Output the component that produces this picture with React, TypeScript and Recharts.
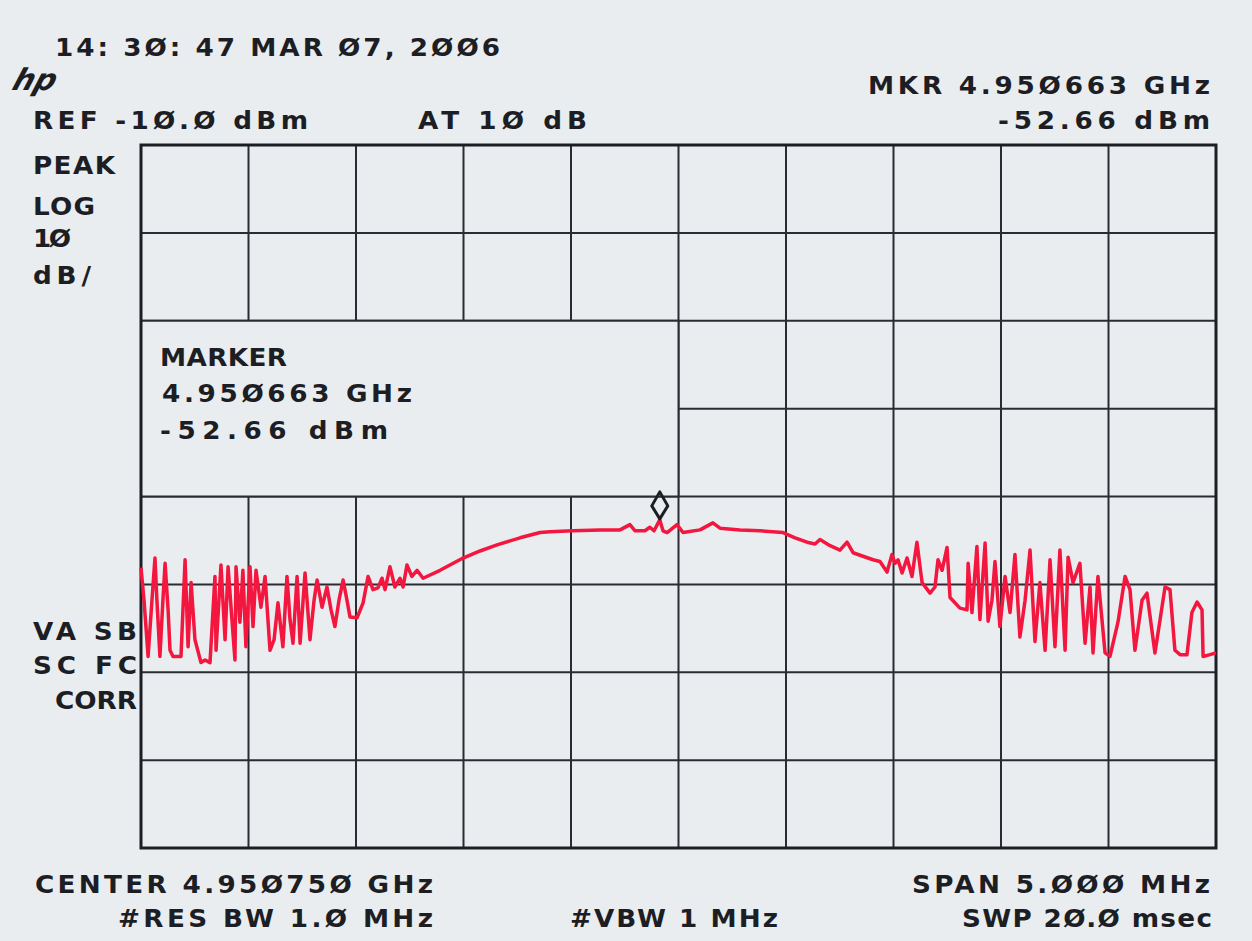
import { LineChart, Line, XAxis, YAxis, CartesianGrid, ReferenceArea, ReferenceDot } from 'recharts';

// frequency offset from center (4.950750 GHz), MHz
const freqOffsetMHz = [
  -2.5, -2.486, -2.467, -2.449, -2.435, -2.426, -2.412, -2.398, -2.388, -2.374,
  -2.365, -2.351, -2.314, -2.295, -2.281, -2.267, -2.249, -2.221, -2.202, -2.179,
  -2.156, -2.151, -2.128, -2.109, -2.095, -2.077, -2.063, -2.058, -2.04, -2.026,
  -2.012, -1.993, -1.979, -1.965, -1.942, -1.923, -1.9, -1.881, -1.863, -1.84,
  -1.821, -1.807, -1.793, -1.774, -1.76, -1.737, -1.714, -1.695, -1.681, -1.658,
  -1.635, -1.616, -1.598, -1.579, -1.56, -1.542, -1.528, -1.495, -1.467, -1.444,
  -1.421, -1.398, -1.379, -1.365, -1.342, -1.319, -1.295, -1.281, -1.263, -1.24,
  -1.216, -1.188, -1.109, -1.002, -0.923, -0.844, -0.737, -0.644, -0.598, -0.491,
  -0.365, -0.272, -0.226, -0.202, -0.156, -0.133, -0.114, -0.087, -0.072, -0.053,
  -0.007, 0.021, 0.1, 0.16, 0.193, 0.286, 0.379, 0.486, 0.542, 0.598,
  0.635, 0.658, 0.705, 0.751, 0.784, 0.812, 0.858, 0.905, 0.937, 0.97,
  0.993, 1.007, 1.021, 1.04, 1.063, 1.086, 1.109, 1.133, 1.17, 1.193,
  1.207, 1.226, 1.249, 1.263, 1.309, 1.342, 1.347, 1.365, 1.388, 1.402,
  1.426, 1.44, 1.458, 1.472, 1.495, 1.519, 1.542, 1.565, 1.588, 1.612,
  1.635, 1.658, 1.681, 1.705, 1.728, 1.751, 1.774, 1.798, 1.812, 1.835,
  1.867, 1.891, 1.914, 1.928, 1.951, 1.984, 2.007, 2.044, 2.077, 2.1,
  2.123, 2.156, 2.179, 2.216, 2.24, 2.263, 2.286, 2.309, 2.333, 2.365,
  2.388, 2.412, 2.435, 2.44, 2.472, 2.5,
];

// trace level, dBm
const levelDbm = [
  -58.1, -61.8, -68.2, -61.8, -57.0, -61.8, -68.2, -61.8, -57.6, -62.9,
  -67.5, -68.2, -68.2, -57.2, -67.1, -59.8, -66.3, -68.9, -68.6, -68.9,
  -59.1, -67.5, -57.8, -66.3, -58.0, -64.0, -68.6, -58.0, -64.3, -58.4,
  -67.1, -58.0, -64.8, -58.4, -62.6, -59.1, -67.5, -66.3, -62.1, -67.1,
  -59.1, -64.0, -66.7, -59.1, -66.7, -58.7, -66.3, -61.8, -59.5, -62.6,
  -60.3, -62.9, -64.8, -61.8, -59.5, -61.8, -63.7, -63.8, -62.1, -59.1,
  -60.6, -60.4, -59.3, -60.6, -58.0, -60.3, -59.3, -60.3, -57.8, -59.1,
  -58.4, -59.3, -58.4, -57.0, -56.2, -55.5, -54.7, -54.1, -54.0, -53.9,
  -53.8, -53.8, -53.2, -53.9, -53.9, -53.5, -53.9, -52.66, -53.9, -54.1,
  -53.2, -54.1, -53.8, -53.0, -53.6, -53.8, -53.9, -54.1, -54.7, -55.2,
  -55.4, -54.9, -55.6, -56.1, -55.2, -56.4, -56.8, -57.2, -57.4, -58.6,
  -56.6, -57.6, -57.2, -58.7, -57.0, -59.1, -55.2, -59.8, -61.0, -60.3,
  -57.2, -58.4, -55.8, -61.5, -62.7, -62.9, -57.6, -63.2, -55.7, -64.0,
  -55.3, -64.2, -61.8, -57.4, -64.8, -59.1, -63.2, -56.6, -66.0, -61.8,
  -56.1, -66.5, -59.8, -67.5, -57.2, -67.1, -56.1, -67.5, -56.9, -59.8,
  -57.6, -66.7, -60.3, -67.8, -59.1, -67.8, -68.2, -64.3, -59.1, -60.6,
  -67.5, -61.8, -61.0, -67.8, -64.0, -60.3, -60.6, -67.5, -68.0, -68.0,
  -63.2, -62.0, -62.9, -68.2, -68.0, -67.8,
];

const freqTicks = [-2.5, -2, -1.5, -1, -0.5, 0, 0.5, 1, 1.5, 2, 2.5];
const levelTicks = [-90, -80, -70, -60, -50, -40, -30, -20, -10];

const markerMHz = -0.087;
const markerDbm = -52.66;

const trace = freqOffsetMHz.map((f, i) => ({ f, dbm: levelDbm[i] }));

const PAPER = '#e9edf0';
const INK = '#1d1e24';
const GRID = '#2b2c33';
const TRACE = '#f3163e';

const MarkerDiamond = (props: any) => {
  const { cx, cy } = props;
  const top = cy - 28;
  return (
    <path
      d={`M${cx},${top} L${cx + 8},${top + 14} L${cx},${top + 27} L${cx - 8},${top + 14} Z`}
      fill="none"
      stroke={INK}
      strokeWidth={3}
      strokeLinejoin="round"
    />
  );
};

// plotter-style label: stretched horizontally to fill the measured width
const SX = 1.05;
const T = ({ x, y, w, children }: { x: number, y: number, w: number, children: string }) => (
  <text
    transform={`translate(${x},${y}) scale(${SX},1)`}
    x={0}
    y={0}
    textLength={w / SX}
    lengthAdjust="spacing"
    fontFamily="DejaVu Sans"
    fontWeight={700}
    fontSize={25}
    fill={INK}
  >
    {children}
  </text>
);

export default function App() {
  return (
    <div style={{ position: 'absolute', left: 0, top: 0, width: 1252, height: 941, background: PAPER }}>
      <LineChart
        width={1252}
        height={941}
        data={trace}
        margin={{ top: 145, right: 36, bottom: 93, left: 141 }}
      >
        <XAxis dataKey="f" type="number" domain={[-2.5, 2.5]} ticks={freqTicks} hide />
        <YAxis type="number" domain={[-90, -10]} ticks={levelTicks} hide />
        <CartesianGrid stroke={GRID} strokeWidth={2} />
        <ReferenceArea
          x1={-2.5}
          x2={0}
          y1={-50}
          y2={-30}
          fill={PAPER}
          fillOpacity={1}
          stroke={GRID}
          strokeWidth={2}
        />
        <ReferenceArea
          x1={-2.5}
          x2={2.5}
          y1={-90}
          y2={-10}
          fill="none"
          stroke={INK}
          strokeWidth={3}
        />
        <Line
          dataKey="dbm"
          type="linear"
          stroke={TRACE}
          strokeWidth={3.5}
          strokeLinejoin="round"
          dot={false}
          isAnimationActive={false}
        />
        <ReferenceDot x={markerMHz} y={markerDbm} r={0} shape={MarkerDiamond} />
      </LineChart>
      <svg
        width={1252}
        height={941}
        style={{ position: 'absolute', left: 0, top: 0, pointerEvents: 'none' }}
      >
        <text x={40} y={90} fontFamily="DejaVu Sans" fontWeight={700} fontStyle="italic" fontSize={30} fill={INK} transform="skewX(-18)">hp</text>
        <T x={55} y={56} w={445}>14: 3Ø: 47 MAR Ø7, 2ØØ6</T>
        <T x={33} y={129} w={275}>REF -1Ø.Ø dBm</T>
        <T x={418} y={129} w={169}>AT 1Ø dB</T>
        <T x={868} y={94} w={342}>MKR 4.95Ø663 GHz</T>
        <T x={998} y={129} w={212}>-52.66 dBm</T>
        <T x={33} y={174} w={82}>PEAK</T>
        <T x={33} y={215} w={62}>LOG</T>
        <T x={33} y={247} w={38}>1Ø</T>
        <T x={33} y={284} w={58}>dB/</T>
        <T x={33} y={640} w={104}>VA SB</T>
        <T x={33} y={674} w={104}>SC FC</T>
        <T x={55} y={709} w={82}>CORR</T>
        <T x={160} y={366} w={127}>MARKER</T>
        <T x={162} y={402} w={250}>4.95Ø663 GHz</T>
        <T x={160} y={439} w={228}>-52.66 dBm</T>
        <T x={35} y={893} w={398}>CENTER 4.95Ø75Ø GHz</T>
        <T x={912} y={893} w={298}>SPAN 5.ØØØ MHz</T>
        <T x={118} y={927} w={315}>#RES BW 1.Ø MHz</T>
        <T x={570} y={927} w={208}>#VBW 1 MHz</T>
        <T x={962} y={927} w={250}>SWP 2Ø.Ø msec</T>
      </svg>
    </div>
  );
}
